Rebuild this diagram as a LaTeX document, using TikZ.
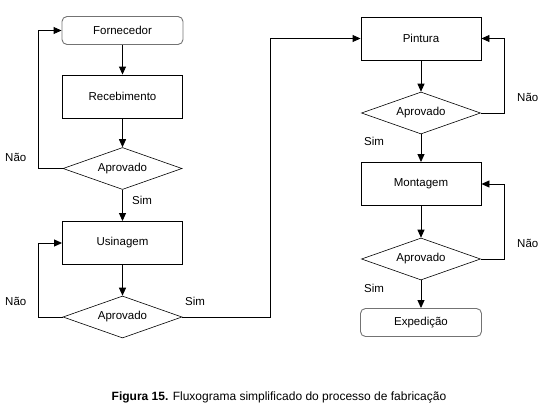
\documentclass[tikz,border=0pt]{standalone}
\usepackage{fontspec}
\setmainfont{Liberation Sans}
\usetikzlibrary{arrows.meta,shapes.geometric}
\begin{document}
\begin{tikzpicture}[x=1pt,y=-1pt,
  every node/.style={font=\fontsize{11.5}{13}\selectfont},
  proc/.style={draw,line width=0.9pt,minimum width=120pt,minimum height=43pt,inner sep=0pt},
  term/.style={draw=black!55,line width=0.9pt,rounded corners=5pt,minimum width=121pt,minimum height=28pt,inner sep=0pt},
  dec/.style={draw,line width=0.6pt,diamond,aspect=2.8,minimum width=119pt,minimum height=42pt,inner sep=0pt},
  lbl/.style={inner sep=0pt,anchor=west},
  arr/.style={line width=0.9pt,-{Triangle[length=8pt,width=7pt]}},
  ln/.style={line width=0.9pt}]
\useasboundingbox (0,0) rectangle (550,407);
\node[term] (forn) at (122.5,30.5) {Fornecedor};
\node[proc] (rec) at (122.5,96.5) {Recebimento};
\node[dec] (d1) at (122.5,168.5) {Aprovado};
\node[proc] (usi) at (122.5,243) {Usinagem};
\node[dec] (d2) at (122.5,317) {Aprovado};
\node[proc] (pin) at (421,38.5) {Pintura};
\node[dec] (d3) at (421,113) {Aprovado};
\node[proc] (mon) at (421,184) {Montagem};
\node[dec] (d4) at (421,259) {Aprovado};
\node[term] (exp) at (421,322.5) {Expedição};
\coordinate (l1) at (38,168.5);
\coordinate (l2) at (38,317);
\coordinate (r1) at (270,317);
\coordinate (r3) at (504,113);
\coordinate (r4) at (504,259);
\draw[arr] (forn) -- (rec);
\draw[arr] (rec) -- (d1);
\draw[arr] (d1) -- (usi);
\draw[arr] (usi) -- (d2);
\draw[arr] (d1.west) -- (l1) |- (forn.west);
\draw[arr] (d2.west) -- (l2) |- (usi.west);
\draw[arr] (d2.east) -- (r1) |- (pin.west);
\draw[arr] (pin) -- (d3);
\draw[arr] (d3) -- (mon);
\draw[arr] (mon) -- (d4);
\draw[arr] (d4) -- (exp);
\draw[arr] (d3.east) -- (r3) |- (pin.east);
\draw[arr] (d4.east) -- (r4) |- (mon.east);
\node[lbl] (n1) at (5,157) {Não};
\node[lbl] (s1) at (132,200) {Sim};
\node[lbl] (n2) at (5,301) {Não};
\node[lbl] (s2) at (185,301) {Sim};
\node[lbl] (n3) at (517,97) {Não};
\node[lbl] (s3) at (364,141) {Sim};
\node[lbl] (n4) at (517,243) {Não};
\node[lbl] (s4) at (364,288) {Sim};
\node[inner sep=0pt,font=\fontsize{12}{14}\selectfont] (cap) at (279,397) {\textbf{Figura 15.} Fluxograma simplificado do processo de fabricação};
\end{tikzpicture}
\end{document}
